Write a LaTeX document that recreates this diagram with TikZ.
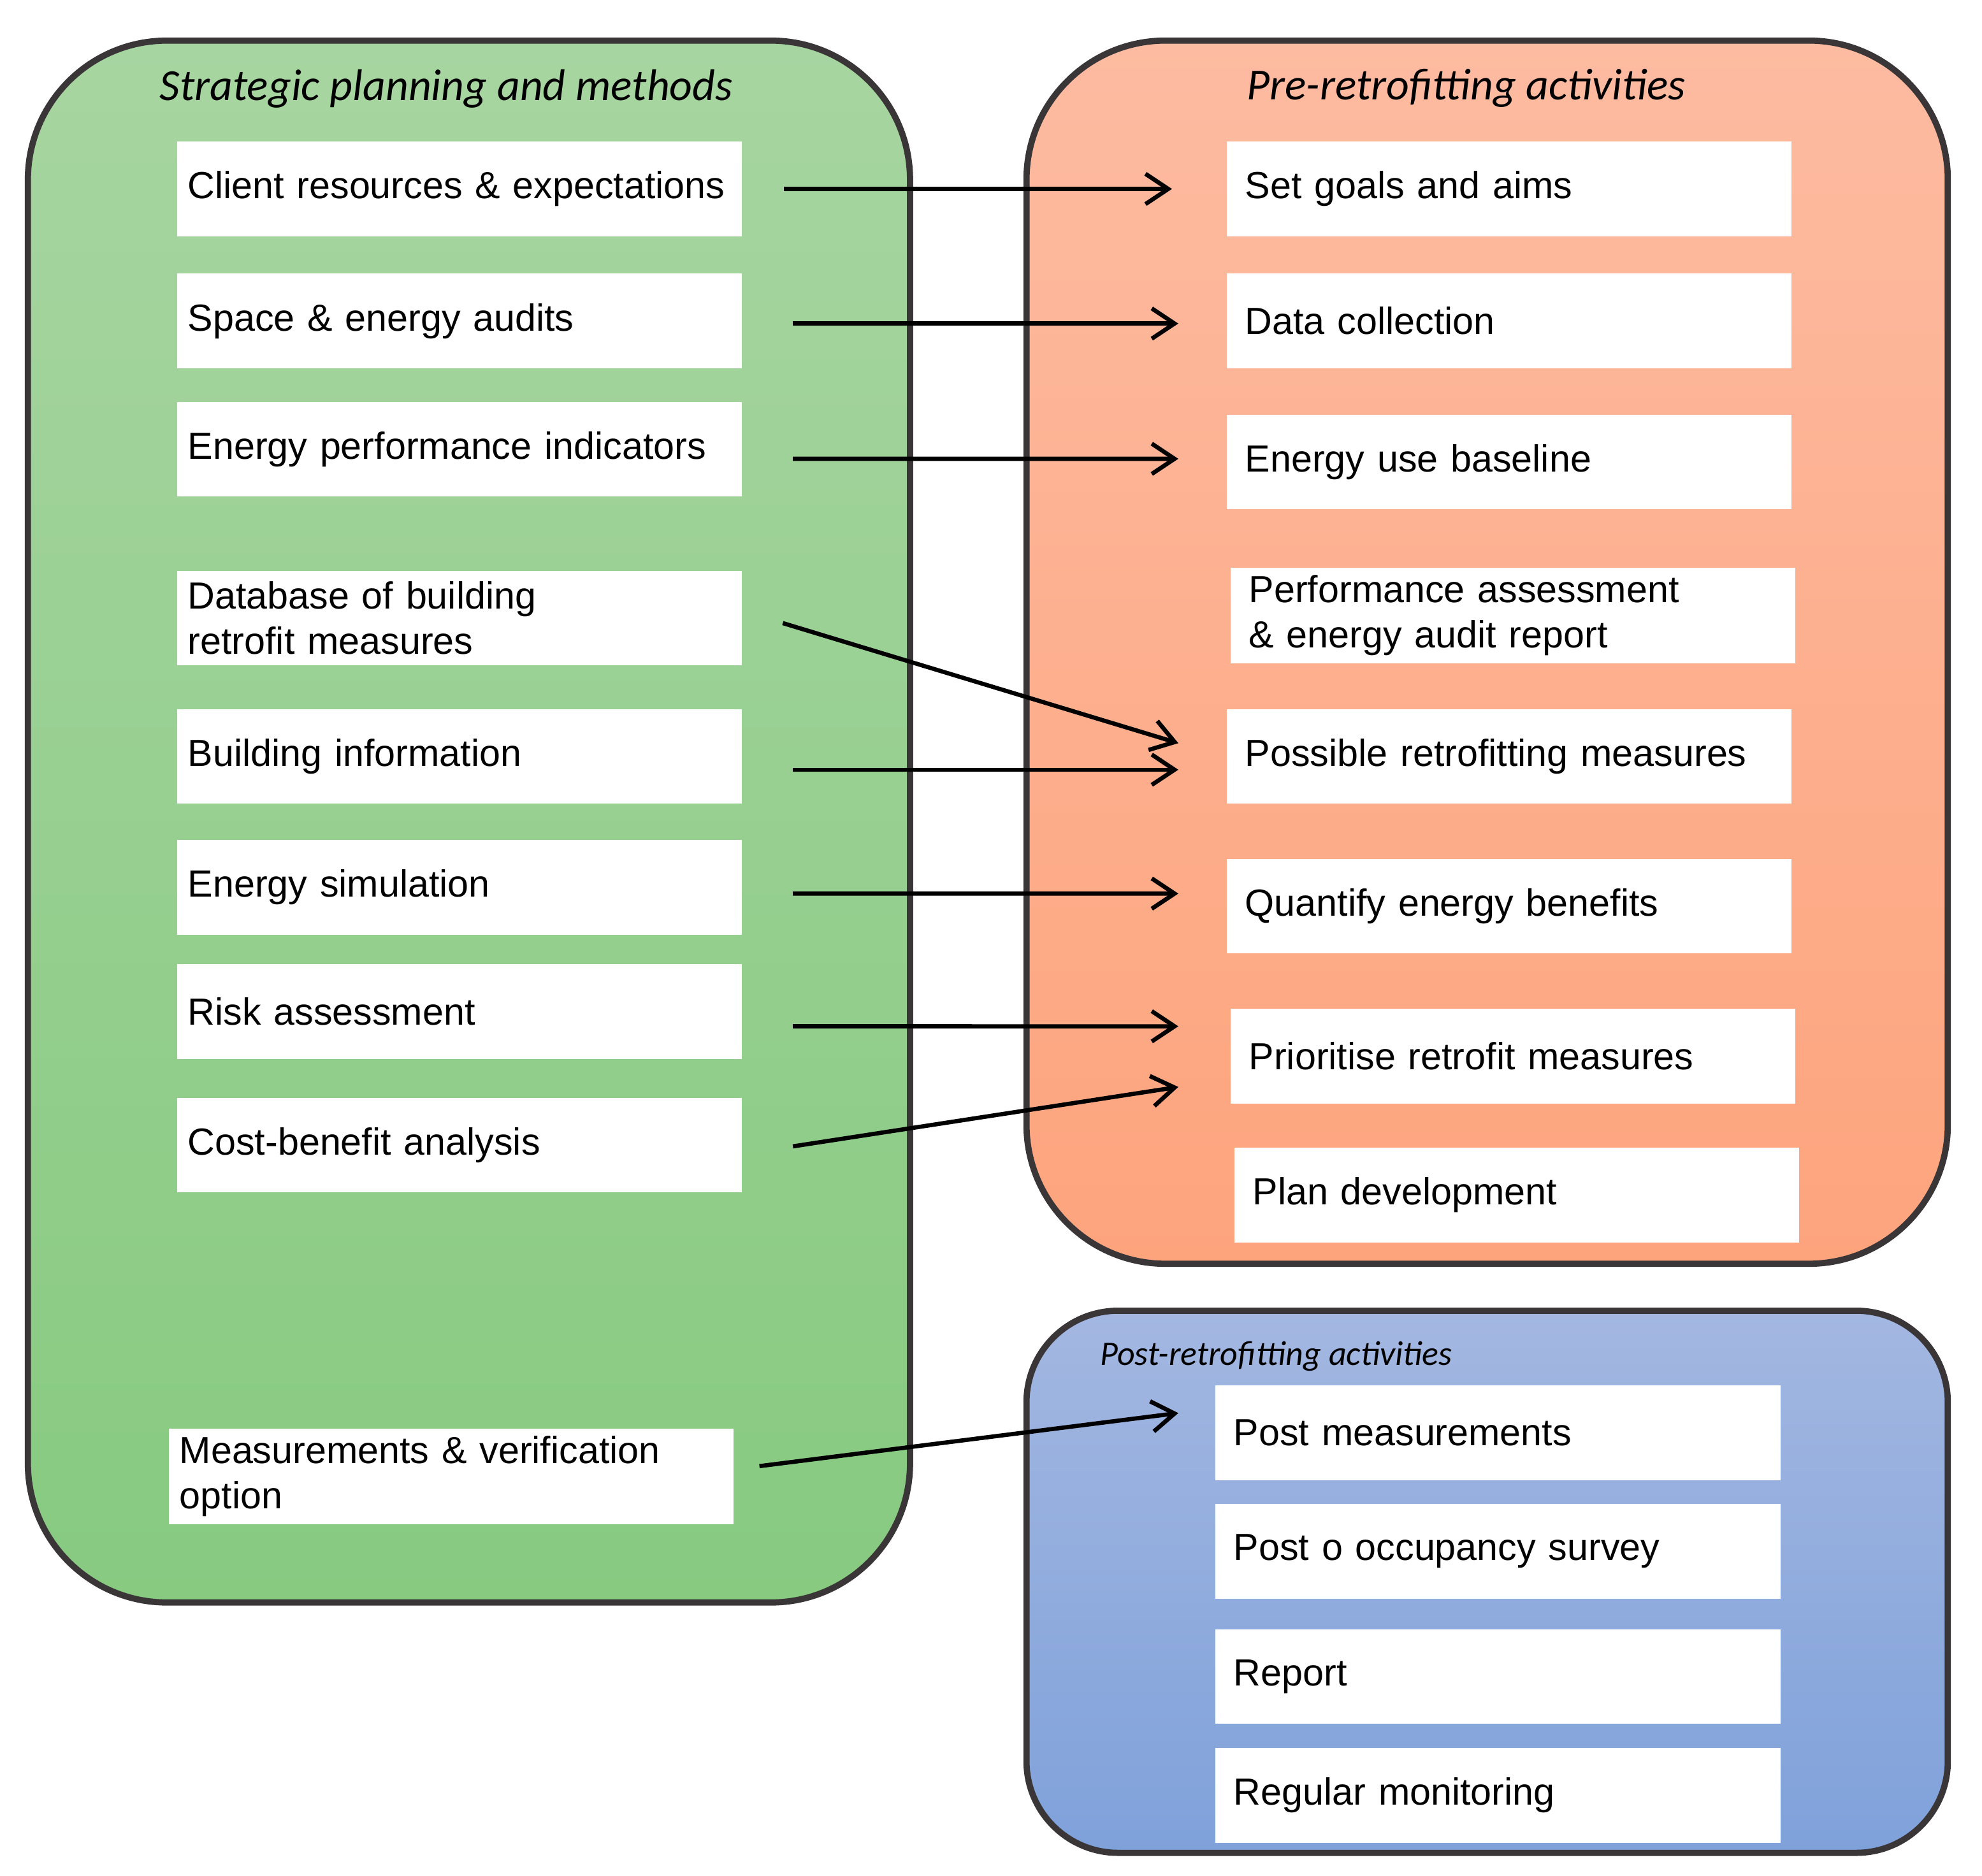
\documentclass[tikz,border=0pt]{standalone}
\usepackage{fontspec}
\setmainfont{Liberation Sans}
\newfontfamily\titlefont{Carlito}
\usetikzlibrary{arrows.meta}

\definecolor{greentop}{HTML}{A7D5A1}
\definecolor{greenbot}{HTML}{87CA80}
\definecolor{orangetop}{HTML}{FDBBA1}
\definecolor{orangebot}{HTML}{FDA47D}
\definecolor{bluetop}{HTML}{A3B7E1}
\definecolor{bluebot}{HTML}{7FA1DA}
\definecolor{rim}{HTML}{3A3536}

\begin{document}
\begin{tikzpicture}[x=0.02cm, y=-0.02cm,
    group/.style = {draw=rim, line width=2.8pt, rounded corners=2.2cm, inner sep=0pt},
    title/.style = {font=\titlefont\itshape\fontsize{20}{24}\selectfont, inner sep=0pt},
    item/.style = {fill=white, minimum width=8.94cm, minimum height=1.5cm, inner xsep=0.17cm,
                   text width=8.6cm, align=left, font=\fontsize{17}{20.5}\selectfont},
    itemr/.style = {item, inner xsep=0.28cm, text width=8.36cm},
    flow/.style = {line width=1.9pt, -{Straight Barb[length=3.6mm, width=4.8mm]}}]
    \useasboundingbox (0,0) rectangle (1568,1484);

    % the three groups
    \node[group, top color=greentop, bottom color=greenbot, minimum width=13.96cm, minimum height=24.72cm] (strategic) at (371,650) {};
    \node[group, top color=orangetop, bottom color=orangebot, minimum width=14.58cm, minimum height=19.36cm] (pre) at (1176.5,516) {};
    \node[group, top color=bluetop, bottom color=bluebot, minimum width=14.58cm, minimum height=8.58cm, rounded corners=1.45cm] (post) at (1176.5,1251.5) {};

    \node[title] (strategictitle) at (353,70) {Strategic planning and methods};
    \node[title] (pretitle) at (1160,70) {Pre-retrofitting activities};
    \node[title, anchor=west, font=\titlefont\itshape\fontsize{15.5}{18}\selectfont] (posttitle) at (870,1073) {Post-retrofitting activities};

    % strategic planning and methods
    \node[item] (l1) at (363.5,149.5) {Client resources \& expectations};
    \node[item] (l2) at (363.5,254)   {Space \& energy audits};
    \node[item] (l3) at (363.5,355.5) {Energy performance indicators};
    \node[item] (l4) at (363.5,489)   {Database of building\\retrofit measures};
    \node[item] (l5) at (363.5,598.5) {Building information};
    \node[item] (l6) at (363.5,702)   {Energy simulation};
    \node[item] (l7) at (363.5,800.5) {Risk assessment};
    \node[item] (l8) at (363.5,906)   {Cost-benefit analysis};
    \node[item] (l9) at (357,1168)    {Measurements \& verification\\option};

    % pre-retrofitting activities
    \node[itemr] (r1) at (1194,149.5) {Set goals and aims};
    \node[itemr] (r2) at (1194,254)   {Data collection};
    \node[itemr] (r3) at (1194,365.5) {Energy use baseline};
    \node[itemr] (r4) at (1197,487)   {Performance assessment\\\& energy audit report};
    \node[itemr] (r5) at (1194,598.5) {Possible retrofitting measures};
    \node[itemr] (r6) at (1194,717)   {Quantify energy benefits};
    \node[itemr] (r7) at (1197,835.5) {Prioritise retrofit measures};
    \node[itemr] (r8) at (1200,945.5) {Plan development};

    % post-retrofitting activities
    \node[itemr] (p1) at (1185,1133.5) {Post measurements};
    \node[itemr] (p2) at (1185,1227.5) {Post o occupancy survey};
    \node[itemr] (p3) at (1185,1326.5) {Report};
    \node[itemr] (p4) at (1185,1420.5) {Regular monitoring};

    \draw[flow] ([xshift=0.66cm]l1.east) -- ([xshift=-0.86cm]r1.west);
    \draw[flow] ([xshift=0.8cm, yshift=-0.04cm]l2.east) -- ([xshift=-0.76cm, yshift=-0.04cm]r2.west);
    \draw[flow] ([xshift=0.8cm, yshift=-0.15cm]l3.east) -- ([xshift=-0.76cm, yshift=0.05cm]r3.west);
    \draw[flow] ([xshift=0.64cm, yshift=-0.08cm]l4.east) -- ([xshift=-0.76cm, yshift=0.21cm]r5.west);
    \draw[flow] ([xshift=0.8cm, yshift=-0.21cm]l5.east) -- ([xshift=-0.76cm, yshift=-0.21cm]r5.west);
    \draw[flow] ([xshift=0.8cm, yshift=-0.1cm]l6.east) -- ([xshift=-0.76cm, yshift=0.2cm]r6.west);
    \draw[flow] ([xshift=0.8cm, yshift=-0.23cm]l7.east) -- ([xshift=-0.82cm, yshift=0.47cm]r7.west);
    \draw[flow] ([xshift=0.8cm, yshift=-0.02cm]l8.east) -- ([xshift=-0.82cm, yshift=-0.49cm]r7.west);
    \draw[flow] ([xshift=0.4cm, yshift=0.16cm]l9.east) -- ([xshift=-0.58cm, yshift=0.31cm]p1.west);
\end{tikzpicture}
\end{document}
